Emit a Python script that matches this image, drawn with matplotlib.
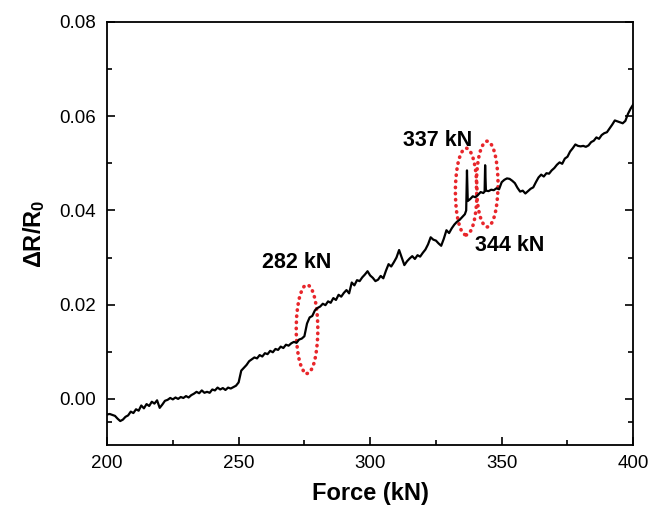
import matplotlib
matplotlib.use("Agg")
import matplotlib.pyplot as plt
from matplotlib.patches import Ellipse

force = [200, 201, 202, 203, 204, 205, 206, 207, 208, 209, 210, 211, 212, 213, 214, 215, 216, 217, 218, 219,
         220, 221, 222, 223, 224, 225, 226, 227, 228, 229, 230, 231, 232, 233, 234, 235, 236, 237, 238, 239,
         240, 241, 242, 243, 244, 245, 246, 247, 248, 249, 250, 250.5, 251, 252, 253, 254, 255, 256, 257, 258,
         259, 260, 261, 262, 263, 264, 265, 266, 267, 268, 269, 270, 271, 272, 273, 274, 275, 276, 277, 278,
         279, 280, 281, 282, 283, 284, 285, 286, 287, 288, 289, 290, 291, 292, 293, 294, 295, 296, 297, 298,
         299, 300, 301, 302, 303, 304, 305, 306, 307, 308, 309, 310, 311, 312, 313, 314, 315, 316, 317, 318,
         319, 320, 321, 322, 323, 324, 325, 326, 327, 328, 329, 330, 331, 332, 333, 334, 335, 336, 336.5, 336.8,
         337.1, 338, 339, 340, 341, 342, 343, 343.5, 343.7, 344.0, 345, 346, 347, 348, 349, 350, 351, 352, 353, 354,
         355, 356, 357, 358, 359, 360, 361, 362, 363, 364, 365, 366, 367, 368, 369, 370, 371, 372, 373, 374,
         375, 376, 377, 378, 379, 380, 381, 382, 383, 384, 385, 386, 387, 388, 389, 390, 391, 392, 393, 394,
         395, 396, 397, 398, 399, 400]

dr = [-0.0033, -0.0032, -0.0034, -0.0036, -0.0042, -0.0047, -0.0044, -0.0038, -0.0035, -0.0027,
      -0.0030, -0.0022, -0.0025, -0.0014, -0.0020, -0.0011, -0.0015, -0.0006, -0.0010, -0.0003,
      -0.0019, -0.0012, -0.0004, -0.0002, 0.0002, -0.0001, 0.0003, 0.0000, 0.0004, 0.0002,
      0.0006, 0.0003, 0.0008, 0.0011, 0.0015, 0.0012, 0.0018, 0.0013, 0.0015, 0.0013,
      0.0020, 0.0018, 0.0024, 0.0020, 0.0023, 0.0019, 0.0024, 0.0022, 0.0025, 0.0028,
      0.0035, 0.0048, 0.0060, 0.0066, 0.0072, 0.0080, 0.0084, 0.0088, 0.0086, 0.0093,
      0.0090, 0.0097, 0.0095, 0.0102, 0.0099, 0.0106, 0.0104, 0.0111, 0.0108, 0.0115,
      0.0113, 0.0118, 0.0121, 0.0119, 0.0126, 0.0128, 0.0133, 0.0160, 0.0173, 0.0176,
      0.0188, 0.0193, 0.0196, 0.0202, 0.0199, 0.0207, 0.0204, 0.0214, 0.0210, 0.0221,
      0.0217, 0.0225, 0.0231, 0.0224, 0.0247, 0.0241, 0.0252, 0.0250, 0.0258, 0.0264,
      0.0271, 0.0262, 0.0257, 0.0250, 0.0253, 0.0261, 0.0256, 0.0272, 0.0286, 0.0281,
      0.0290, 0.0300, 0.0316, 0.0300, 0.0284, 0.0292, 0.0298, 0.0303, 0.0297, 0.0305,
      0.0302, 0.0310, 0.0317, 0.0328, 0.0343, 0.0338, 0.0336, 0.0330, 0.0325, 0.0340,
      0.0358, 0.0352, 0.0362, 0.0370, 0.0376, 0.0380, 0.0386, 0.0392, 0.0400, 0.0485,
      0.0420, 0.0424, 0.0430, 0.0428, 0.0433, 0.0439, 0.0437, 0.0440, 0.0496, 0.0442,
      0.0441, 0.0444, 0.0443, 0.0447, 0.0445, 0.0460, 0.0465, 0.0468, 0.0467, 0.0463,
      0.0458, 0.0448, 0.0440, 0.0442, 0.0436, 0.0441, 0.0446, 0.0449, 0.0460, 0.0470,
      0.0476, 0.0472, 0.0479, 0.0478, 0.0485, 0.0490, 0.0497, 0.0502, 0.0499, 0.0510,
      0.0514, 0.0525, 0.0532, 0.0540, 0.0537, 0.0536, 0.0537, 0.0535, 0.0538, 0.0545,
      0.0548, 0.0555, 0.0552, 0.0560, 0.0564, 0.0566, 0.0574, 0.0582, 0.0591, 0.0589,
      0.0587, 0.0585, 0.0590, 0.0605, 0.0616, 0.0625]

# annotations
labels = ["282 kN", "337 kN", "344 kN"]
label_x = [272.0, 325.5, 352.9]
label_y = [0.0290, 0.0549, 0.0326]
# highlighted regions
ell_cx = [276.0, 336.5, 344.5]
ell_cy = [0.0148, 0.0440, 0.0456]
ell_w = [8.2, 8.2, 8.2]
ell_h = [0.0188, 0.0184, 0.0182]

xticks = [200, 250, 300, 350, 400]
yticks = [0.00, 0.02, 0.04, 0.06, 0.08]

plt.rcParams['font.family'] = ['Liberation Sans', 'DejaVu Sans']
plt.rcParams['mathtext.fontset'] = 'custom'
plt.rcParams['mathtext.rm'] = 'Liberation Sans:bold'
plt.rcParams['mathtext.bf'] = 'Liberation Sans:bold'
plt.rcParams['mathtext.it'] = 'Liberation Sans:bold'

fig = plt.figure(figsize=(6.61, 5.11), dpi=100)
ax = fig.add_axes([0.162, 0.129, 0.796, 0.828])

ax.plot(force, dr, color='black', lw=1.6)

for cx, cy, w, h in zip(ell_cx, ell_cy, ell_w, ell_h):
    e = Ellipse((cx, cy), w, h, fill=False, edgecolor='#e8262b', lw=2.6,
                linestyle=(0, (0.1, 1.6)), capstyle='round')
    ax.add_patch(e)

for t, x, y in zip(labels, label_x, label_y):
    ax.text(x, y, t, ha='center', va='center', fontsize=15.5, fontweight='bold')

ax.set_xlim(200, 400)
ax.set_ylim(-0.0098, 0.08)
ax.set_xticks(xticks)
ax.set_yticks(yticks)
ax.set_yticklabels([f"{v:.2f}" for v in yticks])
ax.set_xticks([225, 275, 325, 375], minor=True)
ax.set_yticks([-0.005, 0.01, 0.03, 0.05, 0.07], minor=True)
ax.tick_params(which='both', direction='in', right=True, top=False, labelsize=13.5)
ax.tick_params(axis='y', which='major', pad=8)
ax.tick_params(axis='x', which='major', pad=7)
ax.tick_params(which='major', length=6, width=1.2)
ax.tick_params(which='minor', length=3.5, width=1.2)
for s in ax.spines.values():
    s.set_linewidth(1.3)

ax.set_xlabel('Force (kN)', fontsize=17, fontweight='bold', labelpad=7)
ax.set_ylabel(r'$\Delta$R/R$_0$', fontsize=17, fontweight='bold', labelpad=9)

fig.savefig('out.png', dpi=100)
